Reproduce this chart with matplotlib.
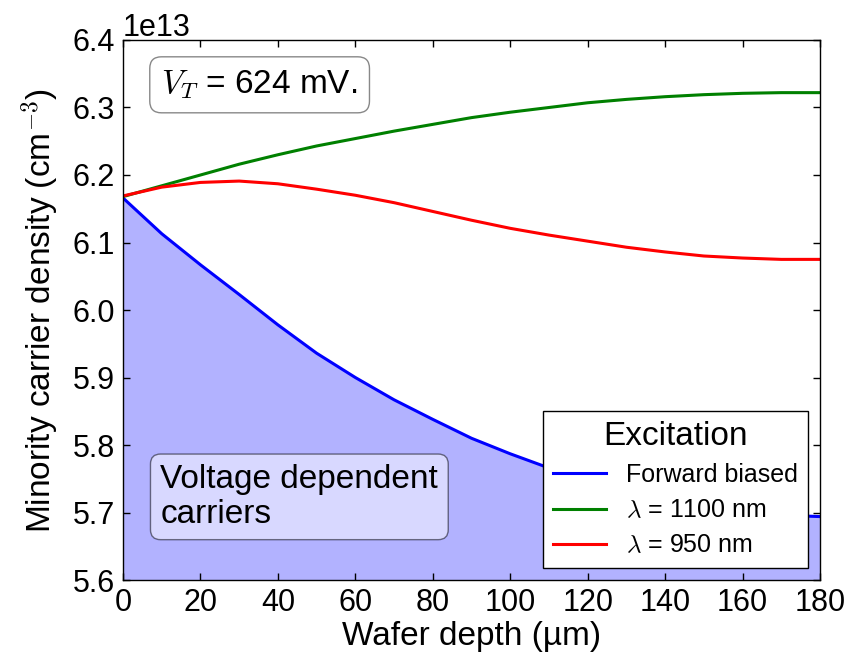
import matplotlib
matplotlib.use('Agg')
import matplotlib.pyplot as plt
import numpy as np

# Значения (в единицах 1e13 см^-3)
depth_um = [0, 10, 20, 30, 40, 50, 60, 70, 80, 90,
            100, 110, 120, 130, 140, 150, 160, 170, 180]
forward_biased = [6.166, 6.113, 6.067, 6.023, 5.978, 5.936, 5.900, 5.867, 5.838, 5.810,
                  5.787, 5.766, 5.748, 5.732, 5.719, 5.709, 5.701, 5.696, 5.694]
lambda_1100 = [6.168, 6.184, 6.200, 6.216, 6.230, 6.243, 6.254, 6.265, 6.275, 6.285,
               6.293, 6.300, 6.307, 6.312, 6.316, 6.319, 6.321, 6.322, 6.322]
lambda_950 = [6.169, 6.182, 6.189, 6.191, 6.187, 6.179, 6.170, 6.159, 6.146, 6.133,
              6.121, 6.111, 6.102, 6.093, 6.086, 6.080, 6.077, 6.075, 6.075]
scale = 1e13

plt.rcParams['font.family'] = ['Liberation Sans', 'DejaVu Sans']
plt.rcParams['mathtext.fontset'] = 'cm'
plt.rcParams['mathtext.default'] = 'it'

fig = plt.figure(figsize=(8.62, 6.61), dpi=100)
ax = fig.add_axes([0.1427, 0.1225, 0.8086, 0.817])

x = np.array(depth_um)
y_fb = np.array(forward_biased) * scale
y_1100 = np.array(lambda_1100) * scale
y_950 = np.array(lambda_950) * scale

ax.fill_between(x, y_fb, 0, color='b', alpha=0.3, linewidth=0)
ax.plot(x, y_fb, color='b', linewidth=2.2, label='Forward biased')
ax.plot(x, y_1100, color='g', linewidth=2.2, label=r'$\lambda$ = 1100 nm')
ax.plot(x, y_950, color='r', linewidth=2.2, label=r'$\lambda$ = 950 nm')

ax.set_xlim(0, 180)
ax.set_ylim(5.6e13, 6.4e13)
ax.set_xticks(np.arange(0, 181, 20))
ax.set_yticks(np.arange(5.6, 6.41, 0.1) * scale)

ax.tick_params(direction='in', top=True, right=True, length=5, width=1,
               labelsize=22, pad=6)
ax.yaxis.get_offset_text().set_fontsize(22)
for s in ax.spines.values():
    s.set_linewidth(1.0)

ax.set_xlabel('Wafer depth (µm)', fontsize=24, labelpad=2)
ax.set_ylabel(r'Minority carrier density (cm$^{-3}$)', fontsize=24, labelpad=8)

ax.text(0.196, 0.917, r'$V_T$ = 624 mV.', transform=ax.transAxes,
        fontsize=24, ha='center', va='center',
        bbox=dict(boxstyle='round,pad=0.35', facecolor='white',
                  edgecolor='#888888', linewidth=1))

ax.text(0.253, 0.154, 'Voltage dependent\ncarriers', transform=ax.transAxes,
        fontsize=24, ha='center', va='center', multialignment='left',
        linespacing=1.15,
        bbox=dict(boxstyle='round,pad=0.3', facecolor='white', alpha=0.5,
                  edgecolor='black', linewidth=1))

leg = ax.legend(loc='lower right', title='Excitation', fontsize=18,
                title_fontsize=24, fancybox=False, framealpha=1,
                edgecolor='black', handlelength=2.1, labelspacing=0.45)
leg.get_frame().set_linewidth(1.0)

plt.savefig('out.png', dpi=100, facecolor='white')
